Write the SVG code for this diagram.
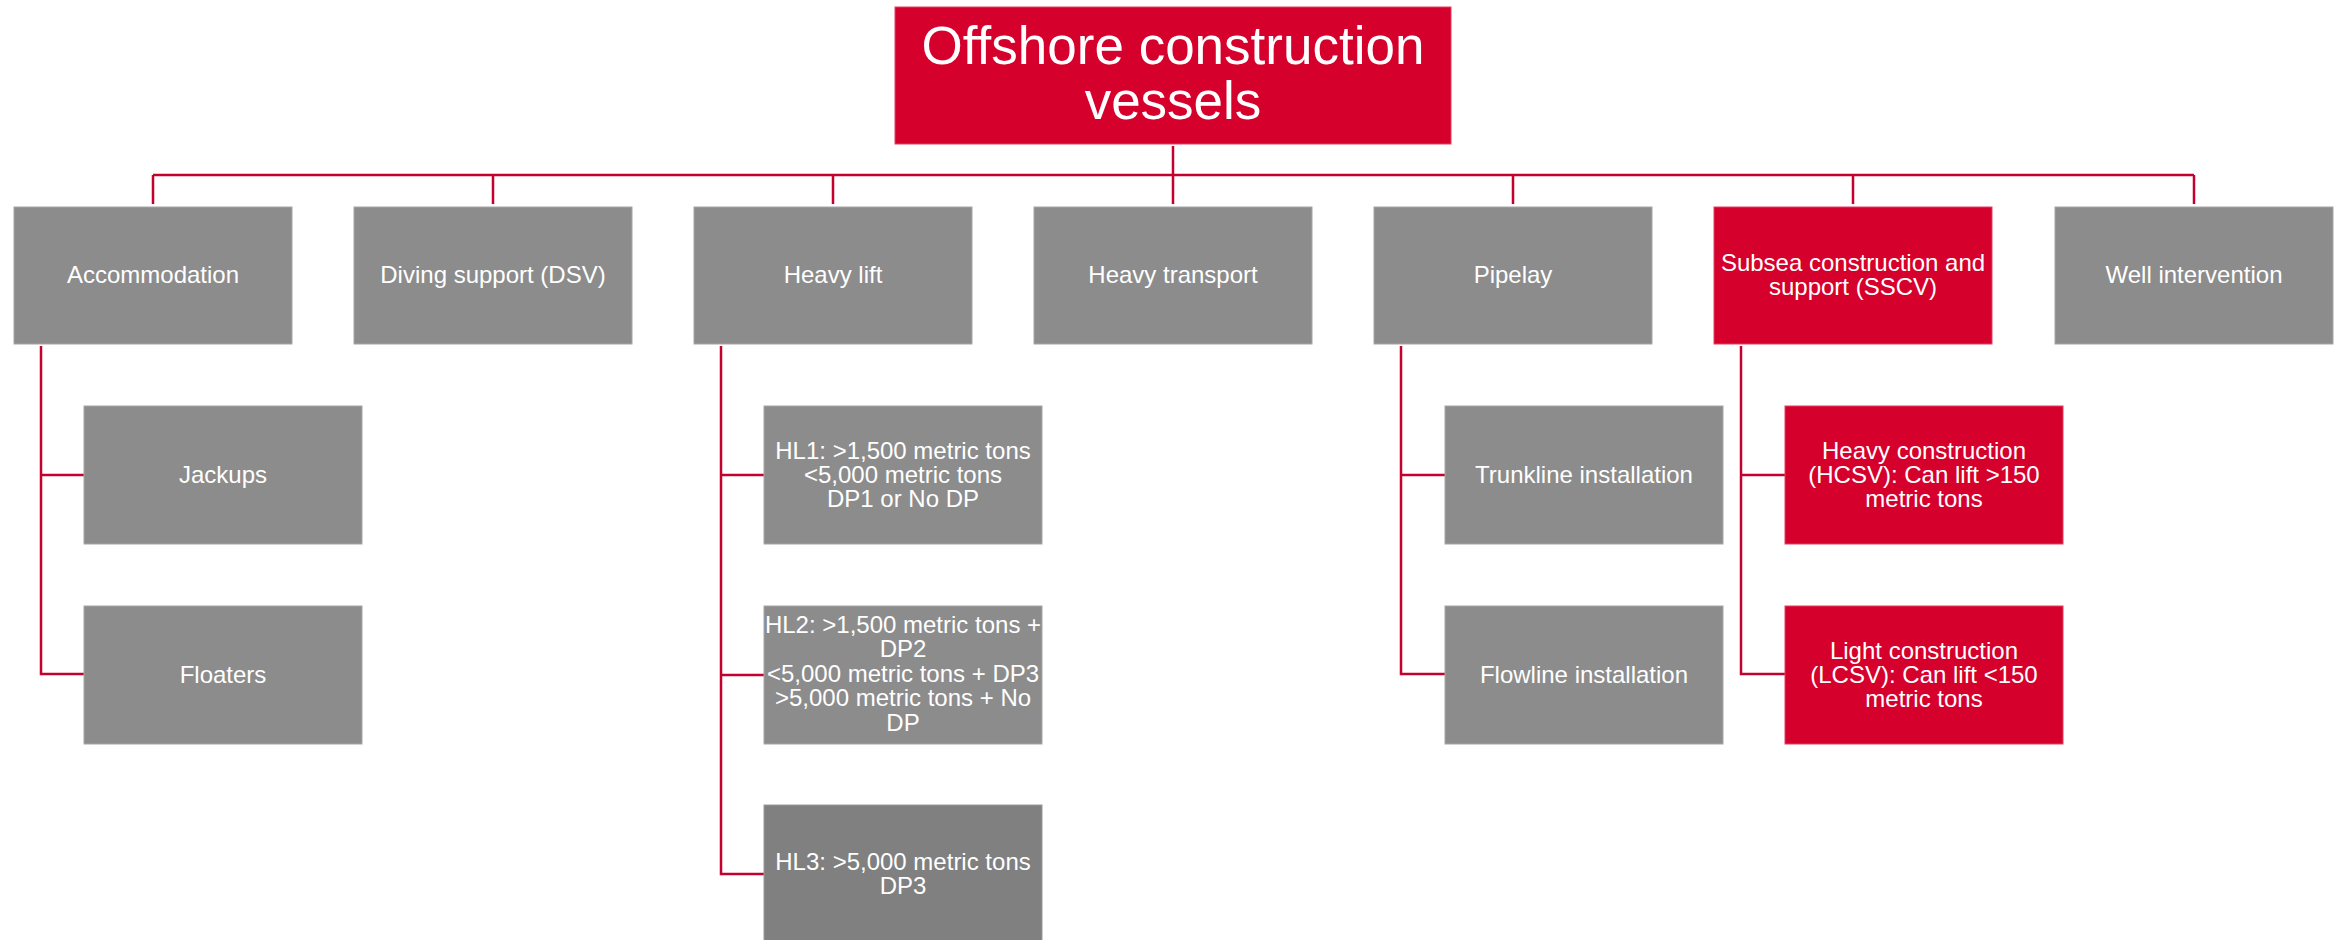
<svg xmlns="http://www.w3.org/2000/svg" width="2348" height="940" viewBox="0 0 2348 940">
<style>
.g{fill:#8c8c8c;stroke:#a6a6a6;stroke-width:1}
.d{fill:#808080;stroke:#999;stroke-width:1}
.r{fill:#d6002c;stroke:#e04060;stroke-width:1}
text{font-family:"Liberation Sans",Arial,sans-serif;fill:#fff;text-anchor:middle}
.t{font-size:24px}
.h{font-size:53px}
.c{fill:none;stroke:#c4002e;stroke-width:2.5}
</style>
<rect width="2348" height="940" fill="#fff"/>
<g id="connectors">
<path class="c" d="M1173 146V204M153 175H2194M153 175V204M493 175V204M833 175V204M1513 175V204M1853 175V204M2194 175V204"/>
<path class="c" d="M41 346V674H84M41 475H84"/>
<path class="c" d="M721 346V874H764M721 475H764M721 675H764"/>
<path class="c" d="M1401 346V674H1445M1401 475H1445"/>
<path class="c" d="M1741 346V674H1785M1741 475H1785"/>
</g>
<g id="root"><rect class="r" x="895" y="7" width="556" height="137"/><text class="h" x="1173" y="64">Offshore construction</text><text class="h" x="1173" y="119">vessels</text></g>
<g id="accommodation"><rect class="g" x="14" y="207" width="278" height="137"/><text class="t" x="153" y="283">Accommodation</text></g>
<g id="dsv"><rect class="g" x="354" y="207" width="278" height="137"/><text class="t" x="493" y="283">Diving support (DSV)</text></g>
<g id="heavy-lift"><rect class="g" x="694" y="207" width="278" height="137"/><text class="t" x="833" y="283">Heavy lift</text></g>
<g id="heavy-transport"><rect class="g" x="1034" y="207" width="278" height="137"/><text class="t" x="1173" y="283">Heavy transport</text></g>
<g id="pipelay"><rect class="g" x="1374" y="207" width="278" height="137"/><text class="t" x="1513" y="283">Pipelay</text></g>
<g id="sscv"><rect class="r" x="1714" y="207" width="278" height="137"/><text class="t" x="1853" y="271">Subsea construction and</text><text class="t" x="1853" y="295">support (SSCV)</text></g>
<g id="well-intervention"><rect class="g" x="2055" y="207" width="278" height="137"/><text class="t" x="2194" y="283">Well intervention</text></g>
<g id="jackups"><rect class="g" x="84" y="406" width="278" height="138"/><text class="t" x="223" y="483">Jackups</text></g>
<g id="floaters"><rect class="g" x="84" y="606" width="278" height="138"/><text class="t" x="223" y="683">Floaters</text></g>
<g id="hl1"><rect class="g" x="764" y="406" width="278" height="138"/><text class="t" x="903" y="459">HL1: &gt;1,500 metric tons</text><text class="t" x="903" y="483">&lt;5,000 metric tons</text><text class="t" x="903" y="507">DP1 or No DP</text></g>
<g id="hl2"><rect class="g" x="764" y="606" width="278" height="138"/><text class="t" x="903" y="633">HL2: &gt;1,500 metric tons +</text><text class="t" x="903" y="657">DP2</text><text class="t" x="903" y="682">&lt;5,000 metric tons + DP3</text><text class="t" x="903" y="706">&gt;5,000 metric tons + No</text><text class="t" x="903" y="731">DP</text></g>
<g id="hl3"><rect class="d" x="764" y="805" width="278" height="138"/><text class="t" x="903" y="870">HL3: &gt;5,000 metric tons</text><text class="t" x="903" y="894">DP3</text></g>
<g id="trunkline"><rect class="g" x="1445" y="406" width="278" height="138"/><text class="t" x="1584" y="483">Trunkline installation</text></g>
<g id="flowline"><rect class="g" x="1445" y="606" width="278" height="138"/><text class="t" x="1584" y="683">Flowline installation</text></g>
<g id="hcsv"><rect class="r" x="1785" y="406" width="278" height="138"/><text class="t" x="1924" y="459">Heavy construction</text><text class="t" x="1924" y="483">(HCSV): Can lift &gt;150</text><text class="t" x="1924" y="507">metric tons</text></g>
<g id="lcsv"><rect class="r" x="1785" y="606" width="278" height="138"/><text class="t" x="1924" y="659">Light construction</text><text class="t" x="1924" y="683">(LCSV): Can lift &lt;150</text><text class="t" x="1924" y="707">metric tons</text></g>
</svg>
